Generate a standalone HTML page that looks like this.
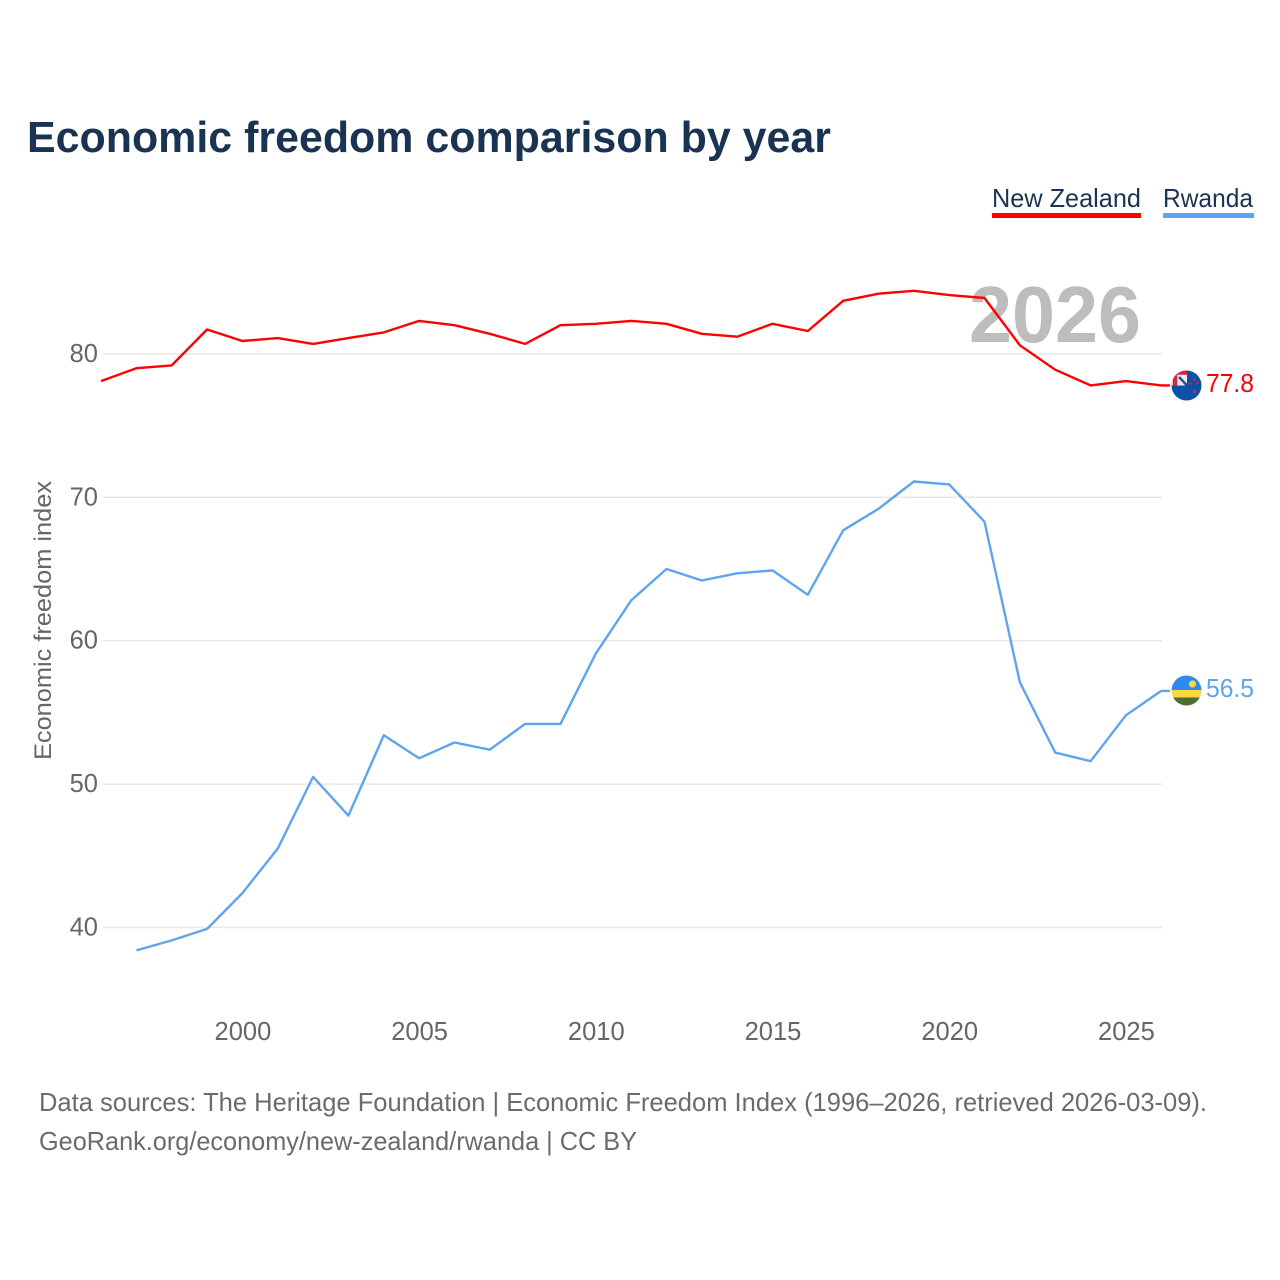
<!DOCTYPE html>
<html lang="en">
<head>
<meta charset="utf-8">
<title>Economic freedom comparison by year</title>
<style>
html,body{margin:0;padding:0;background:#fff;width:1280px;height:1280px;overflow:hidden}
svg{display:block;font-family:"Liberation Sans",sans-serif}
</style>
</head>
<body>
<svg id="chart" width="1280" height="1280" viewBox="0 0 1280 1280" xmlns="http://www.w3.org/2000/svg">
  <defs>
    <clipPath id="nz-clip"><circle cx="1186.5" cy="385.5" r="15"/></clipPath>
    <clipPath id="rw-clip"><circle cx="1186.5" cy="690.5" r="15"/></clipPath>
  </defs>
  <rect width="1280" height="1280" fill="#fff"/>
  <text x="27" y="152" font-size="44" font-weight="700" fill="#1a3352" textLength="804" lengthAdjust="spacingAndGlyphs">Economic freedom comparison by year</text>

  <g>
    <text x="992" y="207" font-size="26" fill="#1a3352" textLength="149" lengthAdjust="spacingAndGlyphs">New Zealand</text>
    <rect x="992" y="213" width="149" height="5" fill="#ff0000"/>
  </g>
  <g>
    <text x="1163" y="207" font-size="26" fill="#1a3352" textLength="90" lengthAdjust="spacingAndGlyphs">Rwanda</text>
    <rect x="1163" y="213" width="91" height="5" fill="#5ea5ee"/>
  </g>

  <g id="grid"></g>
  <g id="yticks"></g>
  <g id="xticks"></g>

  <text transform="translate(51,760) rotate(-90)" font-size="24" fill="#666" textLength="279" lengthAdjust="spacingAndGlyphs">Economic freedom index</text>

  <text x="1141" y="342" text-anchor="end" font-size="80" font-weight="700" fill="#bdbdbd" textLength="172" lengthAdjust="spacingAndGlyphs">2026</text>

  <path id="line-nz" fill="none" stroke="#ff0000" stroke-width="2.4" stroke-linejoin="round"/>
  <path id="line-rw" fill="none" stroke="#5ea5ee" stroke-width="2.4" stroke-linejoin="round"/>

  <g clip-path="url(#nz-clip)">
    <rect x="1171" y="370" width="31" height="31" fill="#0b50a8"/>
    <rect x="1171" y="370" width="16" height="15.5" fill="#efe8ea"/>
    <path d="M1171 372.5H1187M1175 370V385.5" stroke="#d8243c" stroke-width="4.5" fill="none"/>
    <path d="M1179 377L1187 385.5" stroke="#1c4fa0" stroke-width="2.4"/>
    <circle cx="1190" cy="383.5" r="1.3" fill="#d8243c"/>
    <circle cx="1194" cy="379.5" r="1.3" fill="#d8243c"/>
    <circle cx="1197.5" cy="383" r="1.3" fill="#d8243c"/>
    <circle cx="1194.5" cy="391.5" r="1.7" fill="#d8243c"/>
  </g>
  <text x="1206" y="392" font-size="25.5" fill="#ff0000" textLength="48" lengthAdjust="spacingAndGlyphs">77.8</text>

  <g clip-path="url(#rw-clip)">
    <rect x="1171" y="675" width="31" height="15.5" fill="#2f8af0"/>
    <rect x="1171" y="690" width="31" height="8" fill="#fdd73f"/>
    <rect x="1171" y="697.5" width="31" height="9" fill="#4b6e32"/>
    <circle cx="1192.5" cy="684" r="3.6" fill="#fdd73f"/>
  </g>
  <text x="1206" y="697" font-size="25.5" fill="#5ea5ee" textLength="48" lengthAdjust="spacingAndGlyphs">56.5</text>

  <text x="39" y="1111" font-size="26" fill="#6b6b6b" textLength="1168" lengthAdjust="spacingAndGlyphs">Data sources: The Heritage Foundation | Economic Freedom Index (1996–2026, retrieved 2026-03-09).</text>
  <text x="39" y="1150" font-size="26" fill="#6b6b6b" textLength="598" lengthAdjust="spacingAndGlyphs">GeoRank.org/economy/new-zealand/rwanda | CC BY</text>
</svg>
<script>
const years = [1996,1997,1998,1999,2000,2001,2002,2003,2004,2005,2006,2007,2008,2009,2010,2011,2012,2013,2014,2015,2016,2017,2018,2019,2020,2021,2022,2023,2024,2025,2026];
const newZealand = [78.1,79.0,79.2,81.7,80.9,81.1,80.7,81.1,81.5,82.3,82.0,81.4,80.7,82.0,82.1,82.3,82.1,81.4,81.2,82.1,81.6,83.7,84.2,84.4,84.1,83.9,80.6,78.9,77.8,78.1,77.8];
const rwanda = [null,38.4,39.1,39.9,42.4,45.5,50.5,47.8,53.4,51.8,52.9,52.4,54.2,54.2,59.1,62.8,65.0,64.2,64.7,64.9,63.2,67.7,69.2,71.1,70.9,68.3,57.1,52.2,51.6,54.8,56.5];
const yTicks = [40,50,60,70,80];
const xTicks = [2000,2005,2010,2015,2020,2025];

const NS = 'http://www.w3.org/2000/svg';
function xScale(year){ return 242.4 + (year - 2000) * 35.34; }
function yScale(value){ return 927.5 - (value - 40) * 14.34; }
function linePath(values){
  let d = '';
  values.forEach(function(v, i){
    if (v === null) return;
    d += (d ? 'L' : 'M') + xScale(years[i]).toFixed(1) + ' ' + yScale(v).toFixed(1);
  });
  return d;
}
const gridGroup = document.getElementById('grid');
const yGroup = document.getElementById('yticks');
const xGroup = document.getElementById('xticks');
yTicks.forEach(function(t){
  const g = document.createElementNS(NS, 'line');
  
  
  g.setAttribute('x1', 103);
  g.setAttribute('x2', 1162);
  g.setAttribute('y1', yScale(t));
  g.setAttribute('y2', yScale(t));
  g.setAttribute('stroke', '#e8e8e8');
  g.setAttribute('stroke-width', 1.5);
  gridGroup.appendChild(g);
  const l = document.createElementNS(NS, 'text');
  
  
  l.setAttribute('x', 98);
  l.setAttribute('y', yScale(t) + 8);
  l.setAttribute('text-anchor', 'end');
  l.setAttribute('font-size', 25.5);
  l.setAttribute('fill', '#666');
  l.textContent = t;
  yGroup.appendChild(l);
});
xTicks.forEach(function(t){
  const l = document.createElementNS(NS, 'text');
  
  
  l.setAttribute('x', xScale(t) + 0.5);
  l.setAttribute('y', 1040);
  l.setAttribute('text-anchor', 'middle');
  l.setAttribute('font-size', 25.5);
  l.setAttribute('fill', '#666');
  l.textContent = t;
  xGroup.appendChild(l);
});
document.getElementById('line-nz').setAttribute('d', linePath(newZealand) + 'L1170 ' + yScale(newZealand[newZealand.length - 1]).toFixed(1));
document.getElementById('line-rw').setAttribute('d', linePath(rwanda) + 'L1170 ' + yScale(rwanda[rwanda.length - 1]).toFixed(1));
</script>
</body>
</html>
